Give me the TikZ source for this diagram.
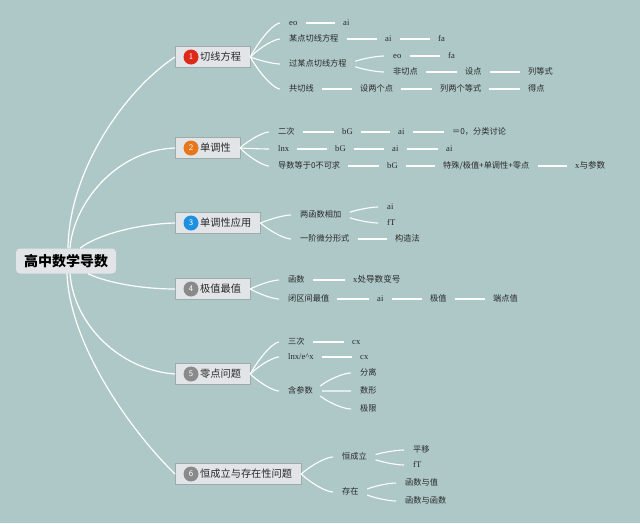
\documentclass[tikz,border=0pt]{standalone}
\usepackage{fontspec}
\setmainfont{Liberation Serif}
\newfontfamily\cjk{Noto Sans CJK SC}
\usetikzlibrary{calc}

\definecolor{bgteal}{RGB}{174,200,200}
\definecolor{boxfill}{RGB}{226,229,231}
\definecolor{boxline}{RGB}{158,170,172}
\definecolor{txtgray}{RGB}{40,40,40}
\definecolor{numred}{RGB}{222,40,26}
\definecolor{numorange}{RGB}{232,118,26}
\definecolor{numblue}{RGB}{30,144,226}
\definecolor{numgray}{RGB}{138,138,138}

\begin{document}
\begin{tikzpicture}[x=1pt, y=-1pt,
    topic/.style={draw=boxline, fill=boxfill, text=txtgray, anchor=west, minimum height=21pt,
        inner xsep=9pt, inner ysep=0pt, font=\cjk\fontsize{10.2}{12}\selectfont},
    num/.style={circle, fill=#1, text=white, inner sep=0pt, minimum size=15pt,
        font=\sffamily\fontsize{8.5}{10}\selectfont},
    leaf/.style={anchor=west, inner sep=1pt, text height=6pt, text depth=1.5pt, text=txtgray,
        font=\cjk\fontsize{8.2}{10}\selectfont},
    var/.style={leaf, font=\fontsize{8.6}{10}\selectfont},
    link/.style={draw=white, line width=1.1pt, shorten <=7pt, shorten >=7pt},
    fan/.style={draw=white, line width=1.1pt, shorten >=8pt,
        to path={let \p1=(\tikztostart), \p2=(\tikztotarget) in
            .. controls ({\x1/3+(\x1+\x2)/3},{\y1/3+2*\y2/3}) and ({\x2/3+(\x1+\x2)/3},\y2) .. (\tikztotarget)}},
    trunk/.style={draw=white, line width=1.2pt}]

    % 0. Background
    \useasboundingbox (0,0) rectangle (640,523);
    \fill[bgteal] (0,0) rectangle (640,523);

    % 1. Central topic and main topics
    \node[fill=boxfill, rounded corners=4pt, minimum height=25pt, inner xsep=8pt, text=black,
        font=\cjk\bfseries\fontsize{14}{16}\selectfont] (root) at (66,261) {高中数学导数};

    \node[topic] (b1) at (175,57) {\hspace*{16pt}切线方程};
    \node[topic] (b2) at (175,148) {\hspace*{16pt}单调性};
    \node[topic] (b3) at (175,223) {\hspace*{16pt}单调性应用};
    \node[topic] (b4) at (175,289) {\hspace*{16pt}极值最值};
    \node[topic] (b5) at (175,374) {\hspace*{16pt}零点问题};
    \node[topic] (b6) at (175,474) {\hspace*{16pt}恒成立与存在性问题};

    \node[num=numred] (n1) at ([xshift=16pt]b1.west) {1};
    \node[num=numorange] (n2) at ([xshift=16pt]b2.west) {2};
    \node[num=numblue] (n3) at ([xshift=16pt]b3.west) {3};
    \node[num=numgray] (n4) at ([xshift=16pt]b4.west) {4};
    \node[num=numgray] (n5) at ([xshift=16pt]b5.west) {5};
    \node[num=numgray] (n6) at ([xshift=16pt]b6.west) {6};

    % 2. Tangent line equation
    \node[var] (r1a) at (288,23) {eo};
    \node[var] (r1a1) at (342,23) {ai};
    \node[leaf] (r1b) at (288,39) {某点切线方程};
    \node[var] (r1b1) at (384,39) {ai};
    \node[var] (r1b2) at (437,39) {fa};
    \node[leaf] (r1c) at (288,64) {过某点切线方程};
    \node[var] (r1c1) at (392,56) {eo};
    \node[var] (r1c11) at (447,56) {fa};
    \node[leaf] (r1c2) at (392,72) {非切点};
    \node[leaf] (r1c21) at (464,72) {设点};
    \node[leaf] (r1c22) at (527,72) {列等式};
    \node[leaf] (r1d) at (288,89) {共切线};
    \node[leaf] (r1d1) at (359,89) {设两个点};
    \node[leaf] (r1d2) at (439,89) {列两个等式};
    \node[leaf] (r1d3) at (527,89) {得点};

    % 3. Monotonicity
    \node[leaf] (r2a) at (277,132) {二次};
    \node[var] (r2a1) at (341,132) {bG};
    \node[var] (r2a2) at (397,132) {ai};
    \node[leaf] (r2a3) at (451,132) {＝0，分类讨论};
    \node[var] (r2b) at (277,149) {lnx};
    \node[var] (r2b1) at (334,149) {bG};
    \node[var] (r2b2) at (391,149) {ai};
    \node[var] (r2b3) at (445,149) {ai};
    \node[leaf] (r2c) at (277,166) {导数等于0不可求};
    \node[var] (r2c1) at (386,166) {bG};
    \node[leaf] (r2c2) at (442,166) {特殊/极值+单调性+零点};
    \node[var] (r2c3) at (574,166) {x{\cjk 与参数}};

    % 4. Applying monotonicity
    \node[leaf] (r3a) at (299,215) {两函数相加};
    \node[var] (r3a1) at (386,207) {ai};
    \node[var] (r3a2) at (386,223) {fT};
    \node[leaf] (r3b) at (299,239) {一阶微分形式};
    \node[leaf] (r3b1) at (394,239) {构造法};

    % 5. Extrema
    \node[leaf] (r4a) at (287,280) {函数};
    \node[var] (r4a1) at (352,280) {x{\cjk 处导数变号}};
    \node[leaf] (r4b) at (287,299) {闭区间最值};
    \node[var] (r4b1) at (376,299) {ai};
    \node[leaf] (r4b2) at (429,299) {极值};
    \node[leaf] (r4b3) at (492,299) {端点值};

    % 6. Zeros
    \node[leaf] (r5a) at (287,342) {三次};
    \node[var] (r5a1) at (351,342) {cx};
    \node[var] (r5b) at (287,357) {lnx/e\textasciicircum x};
    \node[var] (r5b1) at (359,357) {cx};
    \node[leaf] (r5c) at (287,391) {含参数};
    \node[leaf] (r5c1) at (359,373) {分离};
    \node[leaf] (r5c2) at (359,391) {数形};
    \node[leaf] (r5c3) at (359,409) {极限};

    % 7. Always true / exists
    \node[leaf] (r6a) at (341,457) {恒成立};
    \node[leaf] (r6a1) at (412,450) {平移};
    \node[var] (r6a2) at (412,465) {fT};
    \node[leaf] (r6b) at (341,492) {存在};
    \node[leaf] (r6b1) at (404,483) {函数与值};
    \node[leaf] (r6b2) at (404,501) {函数与函数};

    % 8. Trunk curves from the central topic
    \draw[trunk] ([xshift=2pt]root.north) .. controls (69,170) and (125,90) .. (b1.west);
    \draw[trunk] ([xshift=4pt]root.north) .. controls (73,205) and (115,150) .. (b2.west);
    \draw[trunk] ([xshift=14pt]root.north) .. controls (95,236) and (135,224) .. (b3.west);
    \draw[trunk] ([xshift=22pt]root.south) .. controls (105,282) and (140,289) .. (b4.west);
    \draw[trunk] ([xshift=4pt]root.south) .. controls (74,325) and (120,370) .. (b5.west);
    \draw[trunk] ([xshift=1pt]root.south) .. controls (70,345) and (130,430) .. (b6.west);

    % 9. Fans from topics and sub-topics
    \foreach \p/\c in {b1/r1a, b1/r1b, b1/r1c, b1/r1d, b2/r2a, b2/r2b, b2/r2c,
                       b3/r3a, b3/r3b, b4/r4a, b4/r4b, b5/r5a, b5/r5b, b5/r5c,
                       b6/r6a, b6/r6b}
        \draw[fan] (\p.east) to (\c.west);
    \foreach \p/\c in {r1c/r1c1, r1c/r1c2, r3a/r3a1, r3a/r3a2, r5c/r5c1, r5c/r5c2, r5c/r5c3,
                       r6a/r6a1, r6a/r6a2, r6b/r6b1, r6b/r6b2}
        \draw[fan, shorten <=8pt] (\p.east) to (\c.west);

    % 10. Straight links along each row
    \foreach \a/\b in {r1a/r1a1, r1b/r1b1, r1b1/r1b2, r1c1/r1c11, r1c2/r1c21, r1c21/r1c22,
                       r1d/r1d1, r1d1/r1d2, r1d2/r1d3,
                       r2a/r2a1, r2a1/r2a2, r2a2/r2a3, r2b/r2b1, r2b1/r2b2, r2b2/r2b3,
                       r2c/r2c1, r2c1/r2c2, r2c2/r2c3, r3b/r3b1,
                       r4a/r4a1, r4b/r4b1, r4b1/r4b2, r4b2/r4b3, r5a/r5a1, r5b/r5b1}
        \draw[link] (\a.east) -- (\b.west);

\end{tikzpicture}
\end{document}
